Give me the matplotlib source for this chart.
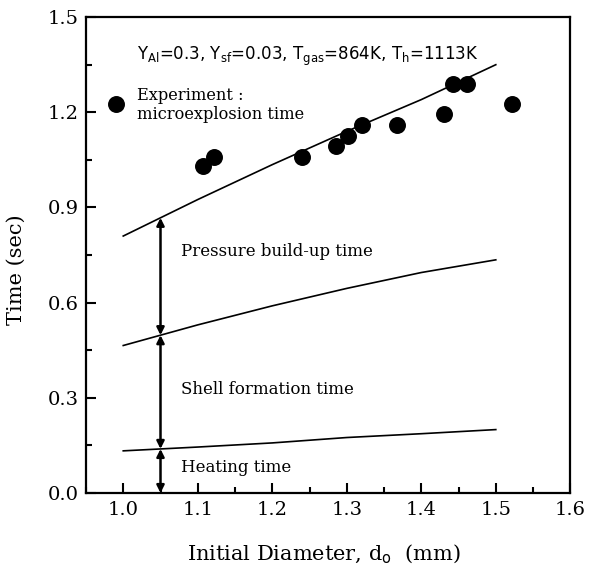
import matplotlib.pyplot as plt
import numpy as np

# measured points (microexplosion time)
d_exp = [1.107, 1.122, 1.240, 1.285, 1.302, 1.321, 1.368, 1.430, 1.443, 1.462, 1.522]
t_exp = [1.03, 1.06, 1.06, 1.095, 1.125, 1.16, 1.16, 1.195, 1.29, 1.29, 1.225]

# model curves
d_mod = [1.0, 1.1, 1.2, 1.3, 1.4, 1.5]
t_micro = [0.81, 0.925, 1.035, 1.14, 1.24, 1.35]
t_shell = [0.465, 0.53, 0.59, 0.645, 0.695, 0.735]
t_heat = [0.133, 0.145, 0.158, 0.175, 0.187, 0.20]

xticks = [1.0, 1.1, 1.2, 1.3, 1.4, 1.5, 1.6]
yticks = [0.0, 0.3, 0.6, 0.9, 1.2, 1.5]

plt.rcParams['font.family'] = 'DejaVu Serif'
plt.rcParams['xtick.direction'] = 'in'
plt.rcParams['ytick.direction'] = 'in'

fig = plt.figure(figsize=(5.91, 5.70), dpi=100)
ax = fig.add_axes([0.1455, 0.135, 0.8195, 0.835])

ax.plot(d_mod, t_micro, c='k', lw=1.2)
ax.plot(d_mod, t_shell, c='k', lw=1.2)
ax.plot(d_mod, t_heat, c='k', lw=1.2)
ax.scatter(d_exp, t_exp, s=125, c='k', zorder=3)

# legend by hand
ax.scatter([0.99], [1.225], s=125, c='k', clip_on=False, zorder=3)
ax.text(1.018, 1.222, 'Experiment :\nmicroexplosion time', fontsize=11.7,
        va='center', ha='left', linespacing=1.15)

# stage arrows at d0 = 1.05
xa = 1.05
lev = [0.0, np.interp(xa, d_mod, t_heat), np.interp(xa, d_mod, t_shell),
       np.interp(xa, d_mod, t_micro)]
for lo, hi in zip(lev[:-1], lev[1:]):
    ax.annotate('', xy=(xa, lo), xytext=(xa, hi),
                arrowprops=dict(arrowstyle='<|-|>', color='k', lw=1.8,
                                mutation_scale=11, shrinkA=0, shrinkB=0))

ax.text(1.078, 0.76, 'Pressure build-up time', fontsize=12, va='center')
ax.text(1.078, 0.325, 'Shell formation time', fontsize=12, va='center')
ax.text(1.077, 0.082, 'Heating time', fontsize=12, va='center')

ax.text(1.019, 1.375,
        r'Y$_{\mathrm{Al}}$=0.3, Y$_{\mathrm{sf}}$=0.03, T$_{\mathrm{gas}}$=864K, T$_{\mathrm{h}}$=1113K',
        fontsize=12, va='center', ha='left', family='DejaVu Sans')

ax.set_xlim(0.95, 1.6)
ax.set_ylim(0, 1.5)
ax.set_xticks(xticks)
ax.set_xticklabels(['%.1f' % v for v in xticks])
ax.set_xticks(np.arange(0.95, 1.6, 0.05), minor=True)
ax.set_yticks(yticks)
ax.set_yticklabels(['%.1f' % v for v in yticks])
ax.set_yticks(np.arange(0.15, 1.5, 0.3), minor=True)
ax.tick_params(which='major', length=7, width=1.5, labelsize=14, pad=6)
ax.tick_params(axis='y', which='major', pad=5)
ax.tick_params(which='minor', length=4, width=1.5)
for s in ax.spines.values():
    s.set_linewidth(1.6)

ax.set_xlabel(r'Initial Diameter, d$_{\mathrm{o}}$  (mm)', fontsize=15)
ax.set_ylabel('Time (sec)', fontsize=15)
ax.xaxis.set_label_coords(0.492, -0.105)
ax.yaxis.set_label_coords(-0.125, 0.47)

fig.savefig('out.png', dpi=100)
